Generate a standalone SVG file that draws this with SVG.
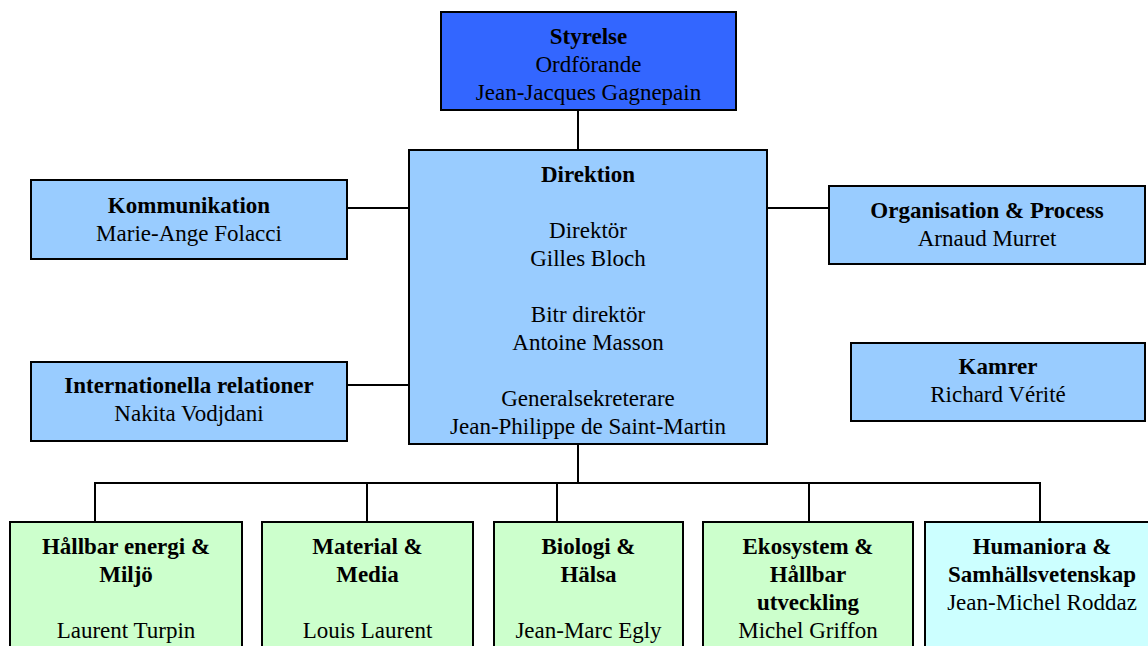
<svg xmlns="http://www.w3.org/2000/svg" width="1148" height="646" viewBox="0 0 1148 646">
<style>
rect{stroke:#000;stroke-width:2}
.top{fill:#3366FF}
.blue{fill:#99CCFF}
.green{fill:#CCFFCC}
.cyan{fill:#CCFFFF}
text{font-family:"Liberation Serif","Times New Roman",serif;font-size:23px;fill:#000;text-anchor:middle}
.b{font-weight:bold}
#connectors line{stroke:#000;stroke-width:2}
</style>
<rect width="1148" height="646" fill="#fff" style="stroke:none"/>
<g id="connectors">
<line x1="578" y1="110" x2="578" y2="150"/>
<line x1="347" y1="208" x2="409" y2="208"/>
<line x1="347" y1="385" x2="409" y2="385"/>
<line x1="767" y1="208" x2="829" y2="208"/>
<line x1="578" y1="444" x2="578" y2="483"/>
<line x1="94" y1="483" x2="1041" y2="483"/>
<line x1="95" y1="483" x2="95" y2="522"/>
<line x1="367" y1="483" x2="367" y2="522"/>
<line x1="557" y1="483" x2="557" y2="522"/>
<line x1="809" y1="483" x2="809" y2="522"/>
<line x1="1040" y1="483" x2="1040" y2="522"/>
</g>
<g id="styrelse">
<rect class="top" x="441" y="12" width="295" height="98"/>
<text x="588.5" y="44" class="b">Styrelse</text>
<text x="588.5" y="72">Ordförande</text>
<text x="588.5" y="100">Jean-Jacques Gagnepain</text>
</g>
<g id="direktion">
<rect class="blue" x="409" y="150" width="358" height="294"/>
<text x="588" y="182" class="b">Direktion</text>
<text x="588" y="238">Direktör</text>
<text x="588" y="266">Gilles Bloch</text>
<text x="588" y="322">Bitr direktör</text>
<text x="588" y="350">Antoine Masson</text>
<text x="588" y="406">Generalsekreterare</text>
<text x="588" y="434">Jean-Philippe de Saint-Martin</text>
</g>
<g id="kommunikation">
<rect class="blue" x="31" y="180" width="316" height="79"/>
<text x="189" y="213" class="b">Kommunikation</text>
<text x="189" y="241">Marie-Ange Folacci</text>
</g>
<g id="internationella">
<rect class="blue" x="31" y="362" width="316" height="79"/>
<text x="189" y="393" class="b">Internationella relationer</text>
<text x="189" y="421">Nakita Vodjdani</text>
</g>
<g id="organisation">
<rect class="blue" x="829" y="186" width="316" height="78"/>
<text x="987" y="218" class="b">Organisation &amp; Process</text>
<text x="987" y="246">Arnaud Murret</text>
</g>
<g id="kamrer">
<rect class="blue" x="851" y="343" width="294" height="78"/>
<text x="998" y="374" class="b">Kamrer</text>
<text x="998" y="402">Richard Vérité</text>
</g>
<g id="hallbar">
<rect class="green" x="10" y="522" width="232" height="140"/>
<text x="126" y="554" class="b">Hållbar energi &amp;</text>
<text x="126" y="582" class="b">Miljö</text>
<text x="126" y="638">Laurent Turpin</text>
</g>
<g id="material">
<rect class="green" x="262" y="522" width="211" height="140"/>
<text x="367.5" y="554" class="b">Material &amp;</text>
<text x="367.5" y="582" class="b">Media</text>
<text x="367.5" y="638">Louis Laurent</text>
</g>
<g id="biologi">
<rect class="green" x="494" y="522" width="189" height="140"/>
<text x="588.5" y="554" class="b">Biologi &amp;</text>
<text x="588.5" y="582" class="b">Hälsa</text>
<text x="588.5" y="638">Jean-Marc Egly</text>
</g>
<g id="ekosystem">
<rect class="green" x="703" y="522" width="210" height="140"/>
<text x="808" y="554" class="b">Ekosystem &amp;</text>
<text x="808" y="582" class="b">Hållbar</text>
<text x="808" y="610" class="b">utveckling</text>
<text x="808" y="638">Michel Griffon</text>
</g>
<g id="humaniora">
<rect class="cyan" x="925" y="522" width="234" height="140"/>
<text x="1042" y="554" class="b">Humaniora &amp;</text>
<text x="1042" y="582" class="b">Samhällsvetenskap</text>
<text x="1042" y="610">Jean-Michel Roddaz</text>
</g>
</svg>
